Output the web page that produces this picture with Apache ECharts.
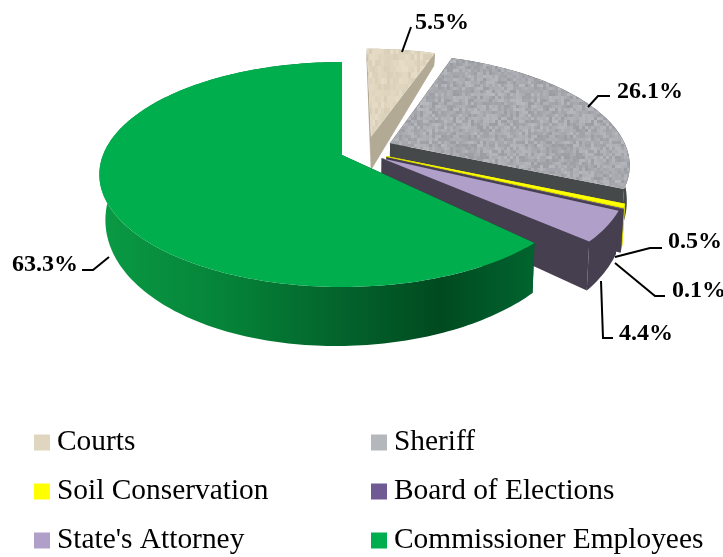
<!DOCTYPE html>
<html>
<head>
<meta charset="utf-8">
<style>html,body{margin:0;padding:0;background:#fff}#c{width:723px;height:557px}</style>
<script src="https://cdn.jsdelivr.net/npm/echarts@6/dist/echarts.min.js"></script>
</head>
<body>
<div id="c"></div>
<script>
// ---- data ----
const categories = ['Courts', 'Sheriff', 'Soil Conservation', 'Board of Elections', "State's Attorney", 'Commissioner Employees'];
const shares = [5.5, 26.1, 0.5, 0.1, 4.4, 63.3];

// ---- styling and view ----
const VIEW = {cx: 342, cy: 155, rx: 239, ry: 109.1, persp: 0.1733};
const explode = [[0.125, -0.172], [0.205, -0.109], [0.185, 0.01], [0.185, 0.02], [0.165, 0.03], [0, 0]];
const leadTrim = [0, 0, 0, 0, 0, 0.055];
const topColors = ['#e0d6bf', '#a9abb0', '#ffff00', '#6f5a94', '#b09fc8', '#00ae4e'];
const sideColors = ['#b3aa96', '#45494a', '#d8d800', '#463f50', '#463f50', '#004a20'];
const legendColors = ['#e0d6bf', '#b4b8bc', '#ffff00', '#6f5a94', '#b09fc8', '#00ae4e'];
const labelBoxes = [[415, 23], [617, 92], [668, 242], [672, 291], [619, 334], [12, 265]];
const leaders = [
  [[402, 52], [411, 27]],
  [[588, 107], [598, 96], [610, 96]],
  [[615, 257], [650, 248], [662, 248]],
  [[615, 263], [655, 296], [665, 296]],
  [[601, 281], [603, 338], [613, 338]],
  [[109, 257], [93, 270], [82, 270]]
];

function texture(base, amp, cellW, cellH, seed) {
  const size = 96, cv = document.createElement('canvas');
  cv.width = cv.height = size;
  const ctx = cv.getContext('2d');
  let s = seed;
  const next = () => (s = (s * 16807) % 2147483647) / 2147483647;
  for (let y = 0; y < size; y += cellH) for (let x = 0; x < size; x += cellW) {
    const d = Math.round((next() - 0.5) * 2 * amp);
    ctx.fillStyle = `rgb(${base[0] + d},${base[1] + d},${base[2] + d})`;
    ctx.fillRect(x, y, cellW, cellH);
  }
  return {image: cv, repeat: 'repeat'};
}
const fills = topColors.slice();
fills[0] = texture([224, 214, 191], 8, 3, 6, 4711);
fills[1] = texture([168, 170, 175], 14, 3, 3, 1237);

const rimFill = sideColors.slice();
rimFill[5] = {
  type: 'linear', x: 100, y: 0, x2: 535, y2: 0, global: true,
  colorStops: [
    {offset: 0, color: '#0a9a44'},
    {offset: 0.3, color: '#058238'},
    {offset: 0.55, color: '#03642c'},
    {offset: 0.78, color: '#004a20'},
    {offset: 1, color: '#01642f'}
  ]
};

function topPoint(x, z) {
  const d = 1 - VIEW.persp * z;
  return [VIEW.cx + VIEW.rx * x / d, VIEW.cy + VIEW.ry * z / d];
}
function basePoint(x, z) {
  const p = topPoint(x, z);
  const dx = p[0] - VIEW.cx;
  return [VIEW.cx + dx * (dx < 0 ? 0.975 : 0.99), p[1] + 38 + 21 * z - 4 * x];
}

const total = shares.reduce((a, b) => a + b, 0);
const startFrac = [];
shares.reduce((acc, v, i) => (startFrac[i] = acc, acc + v), 0);

function sliceElements(i) {
  const a0 = startFrac[i] / total * Math.PI * 2 + leadTrim[i];
  const a1 = (startFrac[i] + shares[i]) / total * Math.PI * 2;
  const [ox, oz] = explode[i];
  const steps = Math.max(2, Math.ceil((a1 - a0) / 0.02));
  const arc = [];
  for (let k = 0; k <= steps; k++) {
    const a = a0 + (a1 - a0) * k / steps;
    arc.push([ox + Math.sin(a), oz - Math.cos(a)]);
  }
  const apexT = topPoint(ox, oz), apexB = basePoint(ox, oz);
  const firstT = topPoint(arc[0][0], arc[0][1]), firstB = basePoint(arc[0][0], arc[0][1]);
  const e = arc[arc.length - 1];
  const lastT = topPoint(e[0], e[1]), lastB = basePoint(e[0], e[1]);
  const rimTop = arc.map(p => topPoint(p[0], p[1]));
  const rimBase = arc.map(p => basePoint(p[0], p[1])).reverse();
  const poly = (points, fill) => ({type: 'polygon', silent: true, shape: {points}, style: {fill, stroke: null}});
  const side = sideColors[i];
  const children = [
    poly([apexT, firstT, firstB, apexB], side),
    poly([apexT, lastT, lastB, apexB], side),
    poly(rimTop.concat(rimBase), rimFill[i]),
    poly([apexT].concat(rimTop), fills[i])
  ];
  children.push({
    type: 'polyline', silent: true, shape: {points: leaders[i]},
    style: {stroke: '#000', lineWidth: 2, fill: null}
  });
  children.push({
    type: 'text', silent: true,
    style: {
      text: shares[i].toFixed(1) + '%', x: labelBoxes[i][0], y: labelBoxes[i][1],
      fill: '#000', font: 'bold 24px "Liberation Serif"', textAlign: 'left', textVerticalAlign: 'middle'
    }
  });
  return {type: 'group', children};
}

const legendStyle = {
  orient: 'vertical', icon: 'rect', itemWidth: 16, itemHeight: 16, itemGap: 16, selectedMode: false,
  padding: 0, height: 200,
  textStyle: {fontFamily: 'Liberation Serif', fontSize: 29.4, color: '#000', padding: [3, 0, 0, 2], lineHeight: 30}
};

const chart = echarts.init(document.getElementById('c'), null, {renderer: 'canvas'});
chart.setOption({
  animation: false,
  backgroundColor: '#fff',
  legend: [
    Object.assign({left: 34, top: 426, data: [categories[0], categories[2], categories[4]]}, legendStyle),
    Object.assign({left: 371, top: 426, data: [categories[1], categories[3], categories[5]]}, legendStyle)
  ],
  series: categories.map((name, i) => ({
    type: 'custom',
    name,
    coordinateSystem: 'none',
    silent: true,
    clip: false,
    itemStyle: {color: legendColors[i]},
    data: [{name, value: shares[i]}],
    renderItem: () => sliceElements(i)
  }))
});
</script>
</body>
</html>
